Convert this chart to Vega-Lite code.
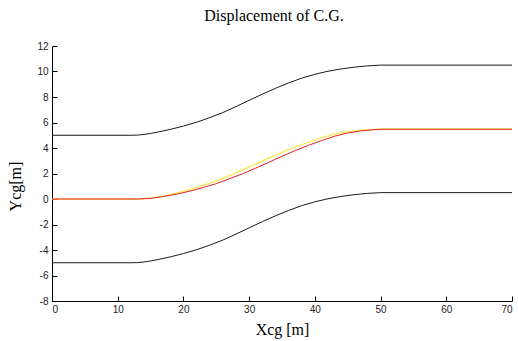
{
  "$schema": "https://vega.github.io/schema/vega-lite/v6.json",
  "width": 460,
  "height": 255,
  "autosize": {"type": "none"},
  "padding": {"left": 52, "top": 46, "right": 6, "bottom": 40},
  "background": "white",
  "title": {
    "text": "Displacement of C.G.",
    "font": "Liberation Serif",
    "fontSize": 16,
    "fontWeight": "normal",
    "color": "#000000",
    "anchor": "middle",
    "dx": -8,
    "offset": 17
  },
  "config": {
    "view": {"stroke": null},
    "axis": {
      "grid": false,
      "domainColor": "#000000",
      "domainWidth": 1,
      "tickColor": "#000000",
      "tickWidth": 1,
      "tickSize": -5,
      "labelFont": "Liberation Sans",
      "labelFontSize": 10,
      "labelColor": "#222222",
      "labelExpr": "datum.value < 0 ? '-' + abs(datum.value) : '' + datum.value",
      "titleFont": "Liberation Serif",
      "titleFontSize": 16,
      "titleFontWeight": "normal",
      "titleColor": "#000000"
    }
  },
  "datasets": {
    "bounds": [
      {"series": "upper", "x": 0, "y": 5},
      {"series": "upper", "x": 12, "y": 5},
      {"series": "upper", "x": 13, "y": 5.01},
      {"series": "upper", "x": 14, "y": 5.06},
      {"series": "upper", "x": 15, "y": 5.14},
      {"series": "upper", "x": 16, "y": 5.24},
      {"series": "upper", "x": 18, "y": 5.46},
      {"series": "upper", "x": 20, "y": 5.72},
      {"series": "upper", "x": 22, "y": 6.02},
      {"series": "upper", "x": 24, "y": 6.38},
      {"series": "upper", "x": 26, "y": 6.78},
      {"series": "upper", "x": 28, "y": 7.25},
      {"series": "upper", "x": 30, "y": 7.74},
      {"series": "upper", "x": 32, "y": 8.22},
      {"series": "upper", "x": 34, "y": 8.68},
      {"series": "upper", "x": 36, "y": 9.1},
      {"series": "upper", "x": 38, "y": 9.48},
      {"series": "upper", "x": 40, "y": 9.78},
      {"series": "upper", "x": 42, "y": 10.02},
      {"series": "upper", "x": 44, "y": 10.2},
      {"series": "upper", "x": 46, "y": 10.34},
      {"series": "upper", "x": 48, "y": 10.44},
      {"series": "upper", "x": 50, "y": 10.5},
      {"series": "upper", "x": 70, "y": 10.5},
      {"series": "lower", "x": 0, "y": -5},
      {"series": "lower", "x": 12, "y": -5},
      {"series": "lower", "x": 13, "y": -4.99},
      {"series": "lower", "x": 14, "y": -4.94},
      {"series": "lower", "x": 15, "y": -4.86},
      {"series": "lower", "x": 16, "y": -4.76},
      {"series": "lower", "x": 18, "y": -4.54},
      {"series": "lower", "x": 20, "y": -4.28},
      {"series": "lower", "x": 22, "y": -3.98},
      {"series": "lower", "x": 24, "y": -3.62},
      {"series": "lower", "x": 26, "y": -3.22},
      {"series": "lower", "x": 28, "y": -2.75},
      {"series": "lower", "x": 30, "y": -2.26},
      {"series": "lower", "x": 32, "y": -1.78},
      {"series": "lower", "x": 34, "y": -1.32},
      {"series": "lower", "x": 36, "y": -0.9},
      {"series": "lower", "x": 38, "y": -0.52},
      {"series": "lower", "x": 40, "y": -0.22},
      {"series": "lower", "x": 42, "y": 0.02},
      {"series": "lower", "x": 44, "y": 0.2},
      {"series": "lower", "x": 46, "y": 0.34},
      {"series": "lower", "x": 48, "y": 0.44},
      {"series": "lower", "x": 50, "y": 0.5},
      {"series": "lower", "x": 70, "y": 0.5}
    ],
    "yellow": [
      {"x": 0, "y": 0},
      {"x": 13, "y": 0},
      {"x": 15, "y": 0.07},
      {"x": 17, "y": 0.25},
      {"x": 19, "y": 0.46},
      {"x": 21, "y": 0.74},
      {"x": 23, "y": 1.06},
      {"x": 25, "y": 1.42},
      {"x": 27, "y": 1.84},
      {"x": 29, "y": 2.28},
      {"x": 31, "y": 2.74},
      {"x": 33, "y": 3.2},
      {"x": 35, "y": 3.65},
      {"x": 37, "y": 4.08},
      {"x": 39, "y": 4.45},
      {"x": 41, "y": 4.8},
      {"x": 43, "y": 5.08},
      {"x": 45, "y": 5.28},
      {"x": 47, "y": 5.4},
      {"x": 49, "y": 5.46},
      {"x": 50, "y": 5.47},
      {"x": 70, "y": 5.47}
    ],
    "red": [
      {"x": 0, "y": 0},
      {"x": 13, "y": 0},
      {"x": 15, "y": 0.05},
      {"x": 17, "y": 0.2},
      {"x": 19, "y": 0.38},
      {"x": 21, "y": 0.62},
      {"x": 23, "y": 0.9},
      {"x": 25, "y": 1.2},
      {"x": 27, "y": 1.58},
      {"x": 29, "y": 1.98},
      {"x": 31, "y": 2.42},
      {"x": 33, "y": 2.88},
      {"x": 35, "y": 3.35},
      {"x": 37, "y": 3.8},
      {"x": 39, "y": 4.2},
      {"x": 41, "y": 4.58},
      {"x": 43, "y": 4.92},
      {"x": 45, "y": 5.18},
      {"x": 47, "y": 5.34},
      {"x": 49, "y": 5.44},
      {"x": 50, "y": 5.47},
      {"x": 70, "y": 5.47}
    ]
  },
  "encoding": {
    "x": {
      "field": "x",
      "type": "quantitative",
      "scale": {"domain": [0, 70], "nice": false, "zero": false},
      "axis": {
        "title": "Xcg [m]",
        "values": [0, 10, 20, 30, 40, 50, 60, 70],
        "labelPadding": 8,
        "titlePadding": 7
      }
    },
    "y": {
      "field": "y",
      "type": "quantitative",
      "scale": {"domain": [-8, 12], "nice": false, "zero": false},
      "axis": {
        "title": "Ycg[m]",
        "values": [-8, -6, -4, -2, 0, 2, 4, 6, 8, 10, 12],
        "labelPadding": 9,
        "titlePadding": 13,
        "titleY": 140
      }
    }
  },
  "layer": [
    {
      "data": {"name": "bounds"},
      "mark": {"type": "line", "color": "#1a1a1a", "strokeWidth": 1},
      "encoding": {"detail": {"field": "series", "type": "nominal"}}
    },
    {
      "data": {"name": "yellow"},
      "mark": {"type": "line", "color": "#ffe94a", "strokeWidth": 1.3},
      "encoding": {}
    },
    {
      "data": {"name": "red"},
      "mark": {"type": "line", "color": "#e0202a", "strokeWidth": 1},
      "encoding": {}
    }
  ]
}
